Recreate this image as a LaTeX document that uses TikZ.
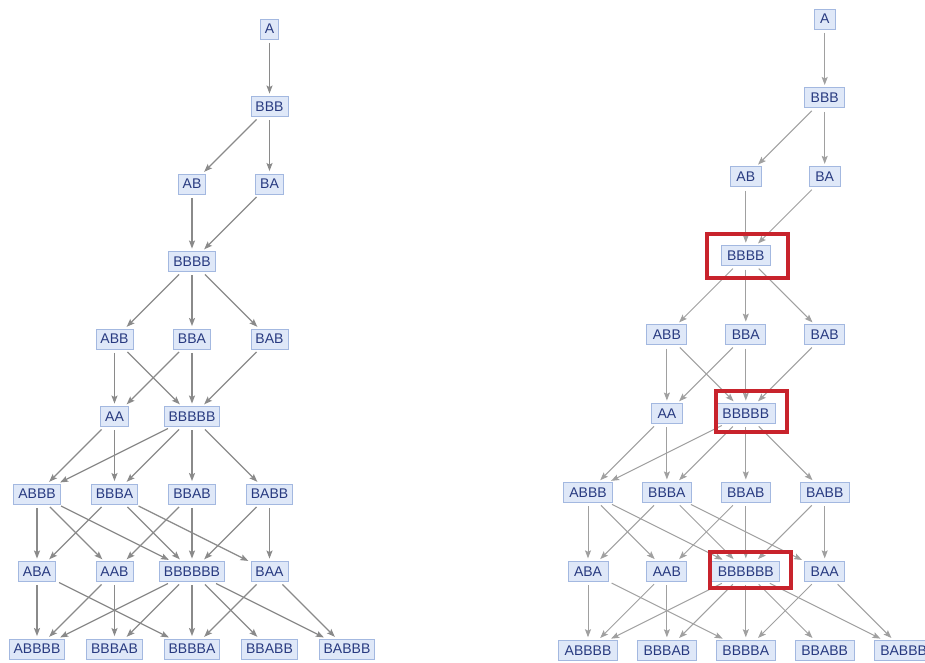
\documentclass[tikz,border=0pt]{standalone}
\usepackage{fontspec}
\setmainfont{Liberation Sans}
\usetikzlibrary{arrows.meta, calc}
\definecolor{statefill}{RGB}{223,232,248}
\definecolor{stateline}{RGB}{163,184,224}
\definecolor{statetext}{RGB}{40,58,128}
\definecolor{arrowgray}{RGB}{138,138,138}
\definecolor{arrowlight}{RGB}{160,160,160}
\definecolor{hlred}{RGB}{200,35,44}
\tikzset{
  statebox/.style={draw=stateline, fill=statefill, text=statetext, line width=0.9pt,
      font=\fontsize{14}{14}\selectfont, inner xsep=4.5pt, inner ysep=4pt, minimum height=20pt},
  statearrow/.style={-{Stealth[length=8pt, width=6pt, inset=1.5pt]}, draw=arrowgray,
      line width=1.2pt, shorten >=2.5pt, shorten <=3.5pt},
  hilite/.style={draw=hlred, line width=4pt},
}
% one copy of the multiway graph, node names prefixed by #1
\newcommand{\stategraph}[1]{%
  \foreach \name/\c/\r in {A/3/0, BBB/3/1, AB/2/2, BA/3/2, BBBB/2/3,
      ABB/1/4, BBA/2/4, BAB/3/4, AA/1/5, BBBBB/2/5,
      ABBB/0/6, BBBA/1/6, BBAB/2/6, BABB/3/6,
      ABA/0/7, AAB/1/7, BBBBBB/2/7, BAA/3/7,
      ABBBB/0/8, BBBAB/1/8, BBBBA/2/8, BBABB/3/8, BABBB/4/8}
    \node[statebox] (#1-\name) at (\c,\r) {\name};
  \foreach \a/\b in {A/BBB, BBB/AB, BBB/BA, AB/BBBB, BA/BBBB,
      BBBB/ABB, BBBB/BBA, BBBB/BAB,
      ABB/AA, ABB/BBBBB, BBA/AA, BBA/BBBBB, BAB/BBBBB,
      AA/ABBB, AA/BBBA, BBBBB/ABBB, BBBBB/BBBA, BBBBB/BBAB, BBBBB/BABB,
      ABBB/ABA, ABBB/AAB, ABBB/BBBBBB, BBBA/ABA, BBBA/BBBBBB, BBBA/BAA,
      BBAB/AAB, BBAB/BBBBBB, BABB/BBBBBB, BABB/BAA,
      ABA/ABBBB, ABA/BBBBA, AAB/ABBBB, AAB/BBBAB,
      BBBBBB/ABBBB, BBBBBB/BBBAB, BBBBBB/BBBBA, BBBBBB/BBABB, BBBBBB/BABBB,
      BAA/BBBBA, BAA/BABBB}
    \draw[statearrow] (#1-\a) -- (#1-\b);
}

\begin{document}
\begin{tikzpicture}[x=1pt, y=-1pt]
  \fill[white] (0,0) rectangle (925,662);
  \clip (0,0) rectangle (925,662);

  % === plain graph (left) ===
  \begin{scope}[shift={(37,29)}, x=77.5pt, y=-77.5pt]
    \stategraph{L}
  \end{scope}

  % === same graph, with the all-B states marked (right) ===
  \begin{scope}[shift={(588,19)}, x=78.9pt, y=-78.9pt,
      statebox/.append style={inner xsep=6pt},
      statearrow/.append style={draw=arrowlight, line width=1pt}]
    \stategraph{R}
  \end{scope}

  % red frames
  \draw[hilite] ($(R-BBBB)+(-39,-22)$) rectangle ($(R-BBBB)+(42,22)$);
  \draw[hilite] ($(R-BBBBB)+(-30,-23)$) rectangle ($(R-BBBBB)+(41,18)$);
  \draw[hilite] ($(R-BBBBBB)+(-36,-19)$) rectangle ($(R-BBBBBB)+(45,17)$);
\end{tikzpicture}
\end{document}
